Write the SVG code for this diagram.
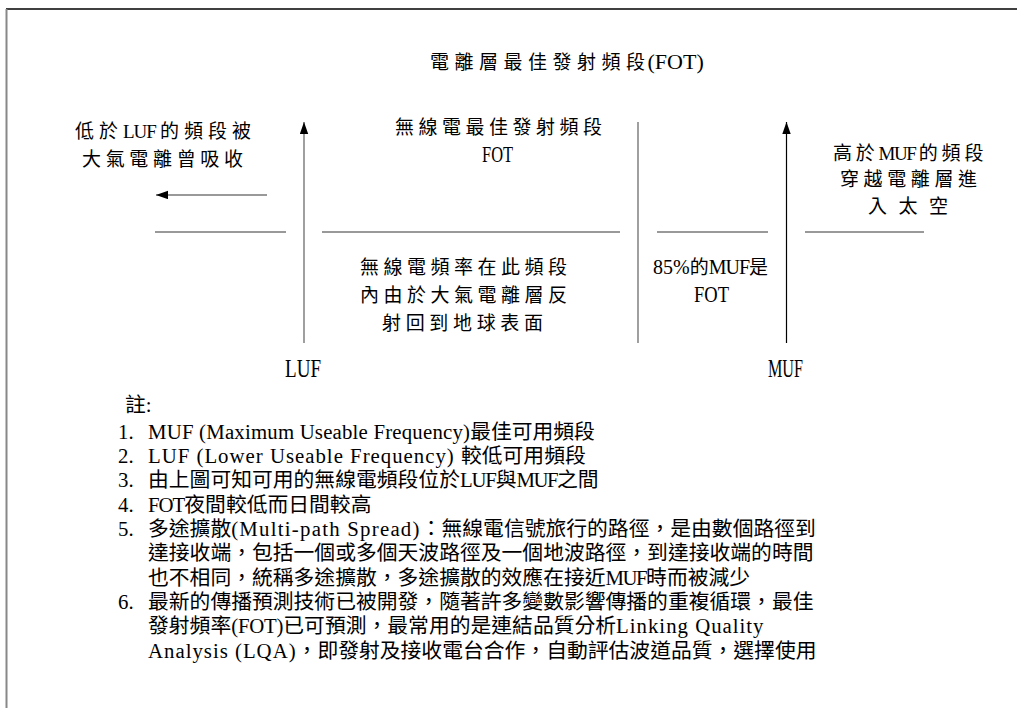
<svg xmlns="http://www.w3.org/2000/svg" width="1017" height="708" viewBox="0 0 1017 708">
<style>
text{font-family:"Liberation Serif","Noto Sans CJK TC",serif;fill:#000}
.lbl{font-size:19px}
.lat{font-size:23px}
.big{font-size:26px}
.note{font-size:20.8px}
.g{stroke:#777;stroke-width:1.4;fill:none}
.k{stroke:#000;stroke-width:1.2;fill:none}
</style>
<defs>
<marker id="ah" markerUnits="userSpaceOnUse" markerWidth="13" markerHeight="9" refX="12" refY="4.2" orient="auto">
<path d="M0,0 L12,4.2 L0,8.4 z" fill="#000"/>
</marker>
</defs>
<rect width="1017" height="708" fill="#fff"/>
<g id="frame">
<line x1="6" y1="9" x2="1017" y2="9" stroke="#000" stroke-width="1.6"/>
<line x1="6.5" y1="9" x2="6.5" y2="708" stroke="#888" stroke-width="2"/>
</g>
<g id="connectors">
<line class="g" x1="267" y1="195" x2="156" y2="195" marker-end="url(#ah)"/>
<line class="g" x1="155" y1="232" x2="286" y2="232"/>
<line class="g" x1="322" y1="232" x2="620" y2="232"/>
<line class="g" x1="657" y1="232" x2="768" y2="232"/>
<line class="g" x1="805" y1="232" x2="924" y2="232"/>
<line class="g" x1="304" y1="343" x2="304" y2="122" marker-end="url(#ah)"/>
<line class="g" x1="638" y1="343" x2="638" y2="122"/>
<line class="k" x1="786.5" y1="343" x2="786.5" y2="122" marker-end="url(#ah)"/>
</g>
<g id="title">
<text class="lbl" x="430" y="69" font-size="20.5"><tspan letter-spacing="5.5">電離層最佳發射頻段</tspan><tspan font-size="22" dx="-3">(FOT)</tspan></text>
</g>
<g id="below-luf">
<text class="lbl" x="75" y="138"><tspan letter-spacing="5">低於</tspan><tspan letter-spacing="-1">LUF</tspan><tspan dx="4" letter-spacing="5">的頻段被</tspan></text>
<text class="lbl" x="82" y="166" textLength="161" lengthAdjust="spacing">大氣電離曾吸收</text>
</g>
<g id="fot-band">
<text class="lbl" x="395" y="134" textLength="207" lengthAdjust="spacing">無線電最佳發射頻段</text>
<text class="lat" x="482" y="162" textLength="31" lengthAdjust="spacingAndGlyphs">FOT</text>
</g>
<g id="above-muf">
<text class="lbl" x="833" y="160"><tspan letter-spacing="3.8">高於</tspan><tspan letter-spacing="-1.5">MUF</tspan><tspan dx="3.5" letter-spacing="3.8">的頻段</tspan></text>
<text class="lbl" x="840" y="186" textLength="137" lengthAdjust="spacing">穿越電離層進</text>
<text class="lbl" x="868" y="213" textLength="80" lengthAdjust="spacing">入太空</text>
</g>
<g id="reflect-band">
<text class="lbl" x="360" y="274" textLength="207" lengthAdjust="spacing">無線電頻率在此頻段</text>
<text class="lbl" x="360" y="302" textLength="207" lengthAdjust="spacing">內由於大氣電離層反</text>
<text class="lbl" x="382" y="330" textLength="161" lengthAdjust="spacing">射回到地球表面</text>
</g>
<g id="pct-muf">
<text class="lbl" x="653" y="274"><tspan font-size="20">85%</tspan>的<tspan font-size="20" letter-spacing="-1">MUF</tspan>是</text>
<text class="lat" x="694" y="302" textLength="35" lengthAdjust="spacingAndGlyphs">FOT</text>
</g>
<g id="luf"><text class="big" x="285" y="377" textLength="36" lengthAdjust="spacingAndGlyphs">LUF</text></g>
<g id="muf"><text class="big" x="768" y="377" textLength="35" lengthAdjust="spacingAndGlyphs">MUF</text></g>
<g id="notes">
<text class="note" x="125" y="412">註:</text>
<text class="note" x="118" y="439">1.</text>
<text class="note" x="148" y="439"><tspan letter-spacing="0.2">MUF (Maximum Useable Frequency)</tspan>最佳可用頻段</text>
<text class="note" x="118" y="463">2.</text>
<text class="note" x="148" y="463"><tspan letter-spacing="1">LUF (Lower Useable Frequency) </tspan>較低可用頻段</text>
<text class="note" x="118" y="487">3.</text>
<text class="note" x="148" y="487">由上圖可知可用的無線電頻段位於<tspan letter-spacing="-1.2">LUF</tspan>與<tspan letter-spacing="-1.5">MUF</tspan>之間</text>
<text class="note" x="118" y="512">4.</text>
<text class="note" x="148" y="512"><tspan letter-spacing="-1">FOT</tspan>夜間較低而日間較高</text>
<text class="note" x="118" y="536">5.</text>
<text class="note" x="148" y="536">多途擴散<tspan letter-spacing="1.25">(Multi-path Spread)</tspan>：無線電信號旅行的路徑，是由數個路徑到</text>
<text class="note" x="148" y="560">達接收端，包括一個或多個天波路徑及一個地波路徑，到達接收端的時間</text>
<text class="note" x="148" y="585">也不相同，統稱多途擴散，多途擴散的效應在接近<tspan letter-spacing="-1.5">MUF</tspan>時而被減少</text>
<text class="note" x="118" y="609">6.</text>
<text class="note" x="148" y="609">最新的傳播預測技術已被開發，隨著許多變數影響傳播的重複循環，最佳</text>
<text class="note" x="148" y="633">發射頻率<tspan letter-spacing="-0.2">(FOT)</tspan>已可預測，最常用的是連結品質分析<tspan letter-spacing="1">Linking Quality</tspan></text>
<text class="note" x="148" y="658"><tspan letter-spacing="1">Analysis (LQA)</tspan>，即發射及接收電台合作，自動評估波道品質，選擇使用</text>
</g>
</svg>
